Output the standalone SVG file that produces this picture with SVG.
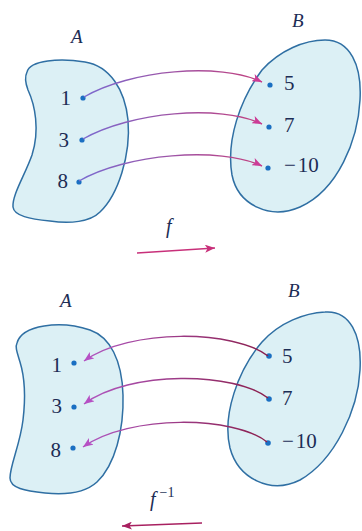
<svg xmlns="http://www.w3.org/2000/svg" width="362" height="531" viewBox="0 0 362 531" font-family="'Liberation Serif', 'DejaVu Serif', serif">
<style>
.blob{fill:#dcf0f5;stroke:#2f6fa3;stroke-width:1.5}
.dot{fill:#1a6fc2}
.num{font-family:'Liberation Serif','DejaVu Serif',serif;font-size:21px;fill:#1c2d55}
.lab{font-family:'Liberation Serif','DejaVu Serif',serif;font-size:19px;font-style:italic;fill:#1c2d55}
.fwd{fill:none;stroke:url(#gf);stroke-width:1.4}
.inv{fill:none;stroke:url(#gi);stroke-width:1.5}
</style>
<defs>
<linearGradient id="gf" gradientUnits="userSpaceOnUse" x1="80" y1="0" x2="262" y2="0">
<stop offset="0" stop-color="#7a6ad0"/><stop offset="1" stop-color="#c2407e"/>
</linearGradient>
<linearGradient id="gi" gradientUnits="userSpaceOnUse" x1="268" y1="0" x2="84" y2="0">
<stop offset="0" stop-color="#8a1e4c"/><stop offset="1" stop-color="#b058c2"/>
</linearGradient>
<marker id="ahf" viewBox="0 0 10 8" refX="10" refY="4" markerWidth="10" markerHeight="8" markerUnits="userSpaceOnUse" orient="auto">
<path d="M0,0 L10,4 L0,8 L2.5,4 Z" fill="#cc3c96"/>
</marker>
<marker id="ahi" viewBox="0 0 10 8" refX="10" refY="4" markerWidth="10" markerHeight="8" markerUnits="userSpaceOnUse" orient="auto">
<path d="M0,0 L10,4 L0,8 L2.5,4 Z" fill="#b650c4"/>
</marker>
<marker id="ahm" viewBox="0 0 10 8" refX="10" refY="4" markerWidth="10" markerHeight="8" markerUnits="userSpaceOnUse" orient="auto">
<path d="M0,0 L10,4 L0,8 L2.5,4 Z" fill="#c8307a"/>
</marker>
<marker id="ahm2" viewBox="0 0 10 8" refX="10" refY="4" markerWidth="10" markerHeight="8" markerUnits="userSpaceOnUse" orient="auto">
<path d="M0,0 L10,4 L0,8 L2.5,4 Z" fill="#a82060"/>
</marker>
</defs>

<g id="setA-top">
<path class="blob" d="M27,72 C30,60 60,58 85,62 C110,66 125,90 128,120 C131,155 118,195 100,212 C90,222 70,224 50,221 C30,219 14,216 13,207 C12,195 25,175 32,155 C40,130 35,105 28,90 C25,82 25,76 27,72 Z"/>
<text class="lab" x="71" y="43">A</text>
<circle class="dot" cx="83" cy="98" r="2.6"/>
<text class="num" x="71" y="105" text-anchor="end">1</text>
<circle class="dot" cx="82" cy="140" r="2.6"/>
<text class="num" x="69" y="147" text-anchor="end">3</text>
<circle class="dot" cx="79" cy="182" r="2.6"/>
<text class="num" x="68" y="188" text-anchor="end">8</text>
</g>

<g id="setB-top">
<path class="blob" d="M325,40 C350,40 362,65 360,100 C358,140 338,190 300,207 C270,220 238,205 232,175 C226,140 240,100 262,70 C280,50 305,40 325,40 Z"/>
<text class="lab" x="292" y="27">B</text>
<circle class="dot" cx="270" cy="85" r="2.6"/>
<text class="num" x="284" y="90">5</text>
<circle class="dot" cx="269" cy="127" r="2.6"/>
<text class="num" x="284" y="132">7</text>
<circle class="dot" cx="268" cy="168" r="2.6"/>
<text class="num" x="284" y="172">−<tspan dx="2">10</tspan></text>
</g>

<g id="setA-bottom">
<path class="blob" d="M17,343 C22,325 60,320 90,330 C110,337 122,360 123,395 C124,430 115,465 97,482 C85,493 65,495 45,493 C25,491 10,488 10,478 C10,465 20,445 23,420 C26,395 24,375 20,362 C17,352 15,347 17,343 Z"/>
<text class="lab" x="60" y="307">A</text>
<circle class="dot" cx="74" cy="363" r="2.6"/>
<text class="num" x="62" y="372" text-anchor="end">1</text>
<circle class="dot" cx="74" cy="407" r="2.6"/>
<text class="num" x="62" y="413" text-anchor="end">3</text>
<circle class="dot" cx="73" cy="448" r="2.6"/>
<text class="num" x="61" y="457" text-anchor="end">8</text>
</g>

<g id="setB-bottom">
<path class="blob" d="M325,312 C350,310 362,335 360,370 C358,410 335,460 300,480 C270,495 238,478 230,448 C222,415 238,370 262,342 C280,322 305,313 325,312 Z"/>
<text class="lab" x="288" y="297">B</text>
<circle class="dot" cx="269" cy="356" r="2.8"/>
<text class="num" x="282" y="363">5</text>
<circle class="dot" cx="269" cy="399" r="2.8"/>
<text class="num" x="282" y="405">7</text>
<circle class="dot" cx="268" cy="443" r="2.8"/>
<text class="num" x="282" y="448">−<tspan dx="2">10</tspan></text>
</g>

<g id="connectors">
<path class="fwd" d="M84,97 C130,70 220,62 262,82" marker-end="url(#ahf)"/>
<path class="fwd" d="M83,139 C130,112 220,104 262,124" marker-end="url(#ahf)"/>
<path class="fwd" d="M79,181 C125,154 220,146 262,166" marker-end="url(#ahf)"/>
<path class="inv" d="M268,356 C235,330 130,328 84,361" marker-end="url(#ahi)"/>
<path class="inv" d="M268,398 C235,372 130,370 84,404" marker-end="url(#ahi)"/>
<path class="inv" d="M267,442 C235,416 130,414 83,447" marker-end="url(#ahi)"/>
</g>

<g id="label-f">
<text class="lab" x="166" y="233" style="font-size:20px">f</text>
<line x1="137" y1="253" x2="215" y2="248" stroke="#c8307a" stroke-width="1.4" marker-end="url(#ahm)"/>
</g>
<g id="label-finv">
<text class="lab" x="150" y="506" style="font-size:20px">f<tspan dx="4" dy="-9" style="font-size:14px;font-style:normal">−1</tspan></text>
<line x1="202" y1="523" x2="122" y2="526" stroke="#a82060" stroke-width="1.5" marker-end="url(#ahm2)"/>
</g>
</svg>
